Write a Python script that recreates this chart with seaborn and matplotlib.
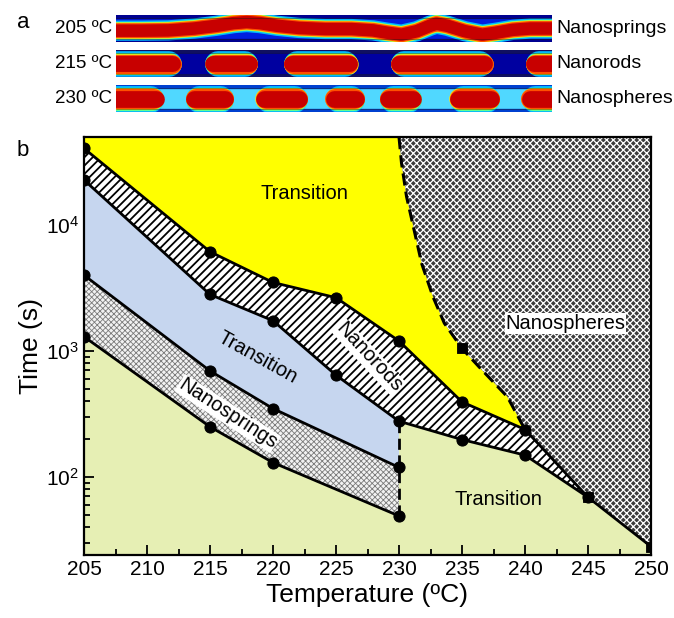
import numpy as np
import matplotlib
matplotlib.use('Agg')
import matplotlib.pyplot as plt
import seaborn as sns
from matplotlib.ticker import LogLocator, MultipleLocator, NullFormatter

sns.set_theme(style='ticks')
plt.rcParams['font.family'] = ['Liberation Sans', 'DejaVu Sans']
plt.rcParams['mathtext.fontset'] = 'custom'
plt.rcParams['mathtext.rm'] = 'Liberation Sans'
plt.rcParams['mathtext.it'] = 'Liberation Sans:italic'
for key in ['text.color', 'axes.labelcolor', 'xtick.color', 'ytick.color', 'axes.edgecolor']:
    plt.rcParams[key] = 'black'

# ==================== ДАННЫЕ (b) ====================
YLIM = (24, 5e4)

springs_T = [205, 215, 220, 230]
springs_low = [1300, 250, 130, 49]
springs_high = [4000, 695, 349, 119]

rods_low_T = [205, 215, 220, 225, 230, 235, 240, 245]
rods_low = [22800, 2810, 1740, 643, 277, 198, 149, 69]
rods_high_T = [205, 215, 220, 225, 230, 235, 240, 245]
rods_high = [40600, 6140, 3500, 2650, 1200, 394, 238, 69]

spheres_low_T = [240, 245, 250]
spheres_low = [238, 69, 28]
spheres_curve_T = [230.0, 230.2, 230.6, 231.2, 231.8, 232.7, 233.6, 235.0, 236.6, 238.6, 240.0]
spheres_curve = [50000, 31000, 16800, 9130, 4950, 2690, 1660, 1047, 704, 433, 238]
spheres_marks_T = [235, 245, 250]
spheres_marks = [1047, 69, 28]

vline_T = [230, 230]
vline_t = [49, 277]

# ==================== ДАННЫЕ (a) ====================
row_labels = ['205 ºC', '215 ºC', '230 ºC']
row_names = ['Nanosprings', 'Nanorods', 'Nanospheres']
# осевая линия пружины (доля ширины, доля высоты)
spring_x = [0, 0.06, 0.12, 0.18, 0.23, 0.27, 0.30, 0.33, 0.37, 0.42, 0.48, 0.54, 0.59,
            0.62, 0.655, 0.69, 0.72, 0.735, 0.76, 0.80, 0.84, 0.87, 0.91, 0.95, 1.0]
spring_y = [0.42, 0.42, 0.43, 0.50, 0.60, 0.70, 0.74, 0.70, 0.60, 0.52, 0.48, 0.48, 0.43,
            0.35, 0.27, 0.40, 0.60, 0.68, 0.60, 0.40, 0.27, 0.34, 0.45, 0.50, 0.50]
# отрезки стержней и сфер (начало, конец)
rods = [(-0.05, 0.15), (0.205, 0.325), (0.385, 0.555), (0.63, 0.865), (0.94, 1.08)]
spheres = [(-0.03, 0.11), (0.16, 0.27), (0.32, 0.44), (0.48, 0.57), (0.605, 0.70), (0.765, 0.88), (0.93, 1.06)]

# ==================== ФИГУРА ====================
fig = plt.figure(figsize=(6.74, 6.18), dpi=100)

STRIP_X0, STRIP_X1 = 116, 552
strip_rows = [(15, 42), (50, 77), (85, 112)]
layers = [(1.00, '#00b8ff'), (0.86, '#60ff90'), (0.80, '#ffe000'), (0.74, '#ff5000'), (0.62, '#c80000')]


def draw_blob(ax, xs, ys, height_pt, strip_px):
    for frac, col in layers:
        lw = height_pt * frac
        r = lw / 72 * 100 / 2 / strip_px
        if len(xs) == 2:
            ax.plot([xs[0] + r, xs[1] - r], ys, color=col, lw=lw, solid_capstyle='round', zorder=2)
        else:
            ax.plot(xs, ys, color=col, lw=lw, solid_capstyle='round', solid_joinstyle='round', zorder=2)


strip_px = STRIP_X1 - STRIP_X0
for i, (y0, y1) in enumerate(strip_rows):
    sax = fig.add_axes([STRIP_X0 / 674, 1 - y1 / 618, strip_px / 674, (y1 - y0) / 618])
    sax.set_xlim(0, 1)
    sax.set_ylim(0, 1)
    sax.set_xticks([])
    sax.set_yticks([])
    for s in sax.spines.values():
        s.set_visible(False)
    h_pt = (y1 - y0) * 0.72
    if i == 0:
        sax.set_facecolor('#0020e0')
        sax.axhspan(0, 0.1, color='#000090', zorder=1)
        sax.axhspan(0.9, 1, color='#000090', zorder=1)
        draw_blob(sax, spring_x, spring_y, h_pt * 0.75, strip_px)
    elif i == 1:
        sax.set_facecolor('#0000a0')
        sax.axhspan(0, 0.08, color='#101060', zorder=1)
        sax.axhspan(0.92, 1, color='#101060', zorder=1)
        for a, b in rods:
            draw_blob(sax, [a, b], [0.5, 0.5], h_pt * 0.95, strip_px)
    else:
        sax.set_facecolor('#50d8ff')
        sax.axhspan(0, 0.12, color='#0040d0', zorder=1)
        sax.axhspan(0.88, 1, color='#0040d0', zorder=1)
        for a, b in spheres:
            draw_blob(sax, [a, b], [0.5, 0.5], h_pt * 1.0, strip_px)
    sax.axhline(0.12, color='k', lw=0.5, alpha=0.6, zorder=3)
    sax.axhline(0.88, color='k', lw=0.5, alpha=0.6, zorder=3)
    yc = 1 - (y0 + y1) / 2 / 618
    fig.text(112 / 674, yc, row_labels[i], ha='right', va='center', fontsize=13.5)
    fig.text(556 / 674, yc, row_names[i], ha='left', va='center', fontsize=14)

fig.text(17 / 674, 1 - 22 / 618, 'a', fontsize=16, va='center')
fig.text(17 / 674, 1 - 151 / 618, 'b', fontsize=16, va='center')

# ==================== ДИАГРАММА (b) ====================
ax = fig.add_axes([84 / 674, 1 - 555 / 618, 567 / 674, 418 / 618])
ax.set_yscale('log')
ax.set_xlim(205, 250)
ax.set_ylim(*YLIM)
ax.set_facecolor('#e6efb4')

# наноспирали
plt.rcParams['hatch.linewidth'] = 0.6
ax.fill_between(springs_T, springs_low, springs_high, facecolor='#f2f2f2',
                edgecolor='#7a7a7a', hatch='xxxxxx', linewidth=0, zorder=1)
# переходная область (голубая): между наноспиралями и наностержнями
blue_T = springs_T + rods_low_T[:5][::-1]
blue_t = springs_high + rods_low[:5][::-1]
ax.fill(blue_T, blue_t, facecolor='#c6d6ef', linewidth=0, zorder=1)
# наностержни
plt.rcParams['hatch.linewidth'] = 1.3
ax.fill_between(rods_low_T, rods_low, rods_high, facecolor='white',
                edgecolor='black', hatch='////', linewidth=0, zorder=1)
# жёлтая область
yel_T = list(rods_high_T[:7]) + spheres_curve_T[::-1] + [205]
yel_t = list(rods_high[:7]) + spheres_curve[::-1] + [YLIM[1]]
ax.fill(yel_T, yel_t, facecolor='#ffff00', linewidth=0, zorder=1)
# наносферы
plt.rcParams['hatch.linewidth'] = 0.9
sph_T = spheres_curve_T + spheres_low_T[1:] + [250, 250]
sph_t = spheres_curve + spheres_low[1:] + [YLIM[0], YLIM[1]]
ax.fill(sph_T, sph_t, facecolor='#3c3c3c', edgecolor='white', hatch='xxxxx',
        linewidth=0, zorder=1)

# границы
mk = dict(marker='o', markersize=8, markeredgecolor='black', color='black', linewidth=2, zorder=4)
sns.lineplot(x=springs_T, y=springs_low, ax=ax, sort=False, **mk)
sns.lineplot(x=springs_T, y=springs_high, ax=ax, sort=False, **mk)
sns.lineplot(x=rods_low_T, y=rods_low, ax=ax, sort=False, **mk)
sns.lineplot(x=rods_high_T[:7], y=rods_high[:7], ax=ax, sort=False, **mk)
sns.lineplot(x=spheres_low_T, y=spheres_low, ax=ax, sort=False, color='black', linewidth=2, zorder=4)
ax.plot(spheres_curve_T, spheres_curve, color='black', lw=2.2, ls=(0, (4, 2)), zorder=4)
ax.plot(vline_T, vline_t, color='black', lw=2, ls=(0, (4, 2)), zorder=3)
sns.scatterplot(x=spheres_marks_T, y=spheres_marks, ax=ax, marker='s', s=60,
                color='black', edgecolor='black', zorder=5)

# подписи областей
box = dict(facecolor='white', edgecolor='none', pad=0.5)
ax.text(222.5, 17800, 'Transition', fontsize=14.5, ha='center', va='center', zorder=6)
ax.text(218.8, 890, 'Transition', fontsize=14.5, ha='center', va='center', rotation=-29, zorder=6)
ax.text(216.4, 318, 'Nanosprings', fontsize=14.5, ha='center', va='center', rotation=-33,
        zorder=6, bbox=box)
ax.text(227.6, 890, 'Nanorods', fontsize=14.5, ha='center', va='center', rotation=-47,
        zorder=6, bbox=box)
ax.text(243.2, 1650, 'Nanospheres', fontsize=14.5, ha='center', va='center', zorder=6, bbox=box)
ax.text(237.9, 66, 'Transition', fontsize=14.5, ha='center', va='center', zorder=6)

# оси
ax.xaxis.set_major_locator(MultipleLocator(5))
ax.xaxis.set_minor_locator(MultipleLocator(2.5))
ax.yaxis.set_major_locator(LogLocator(base=10, numticks=10))
ax.yaxis.set_minor_locator(LogLocator(base=10, subs=np.arange(2, 10), numticks=20))
ax.yaxis.set_minor_formatter(NullFormatter())
ax.tick_params(which='both', direction='in', top=True, right=True, width=1.3, labelsize=15, zorder=7)
ax.tick_params(which='major', length=7)
ax.tick_params(which='minor', length=4)
for s in ax.spines.values():
    s.set_linewidth(1.6)
    s.set_zorder(8)
ax.set_xlabel('Temperature (ºC)', fontsize=19, labelpad=3)
ax.set_ylabel('Time (s)', fontsize=19, labelpad=2)

fig.savefig('out.png', dpi=100)
